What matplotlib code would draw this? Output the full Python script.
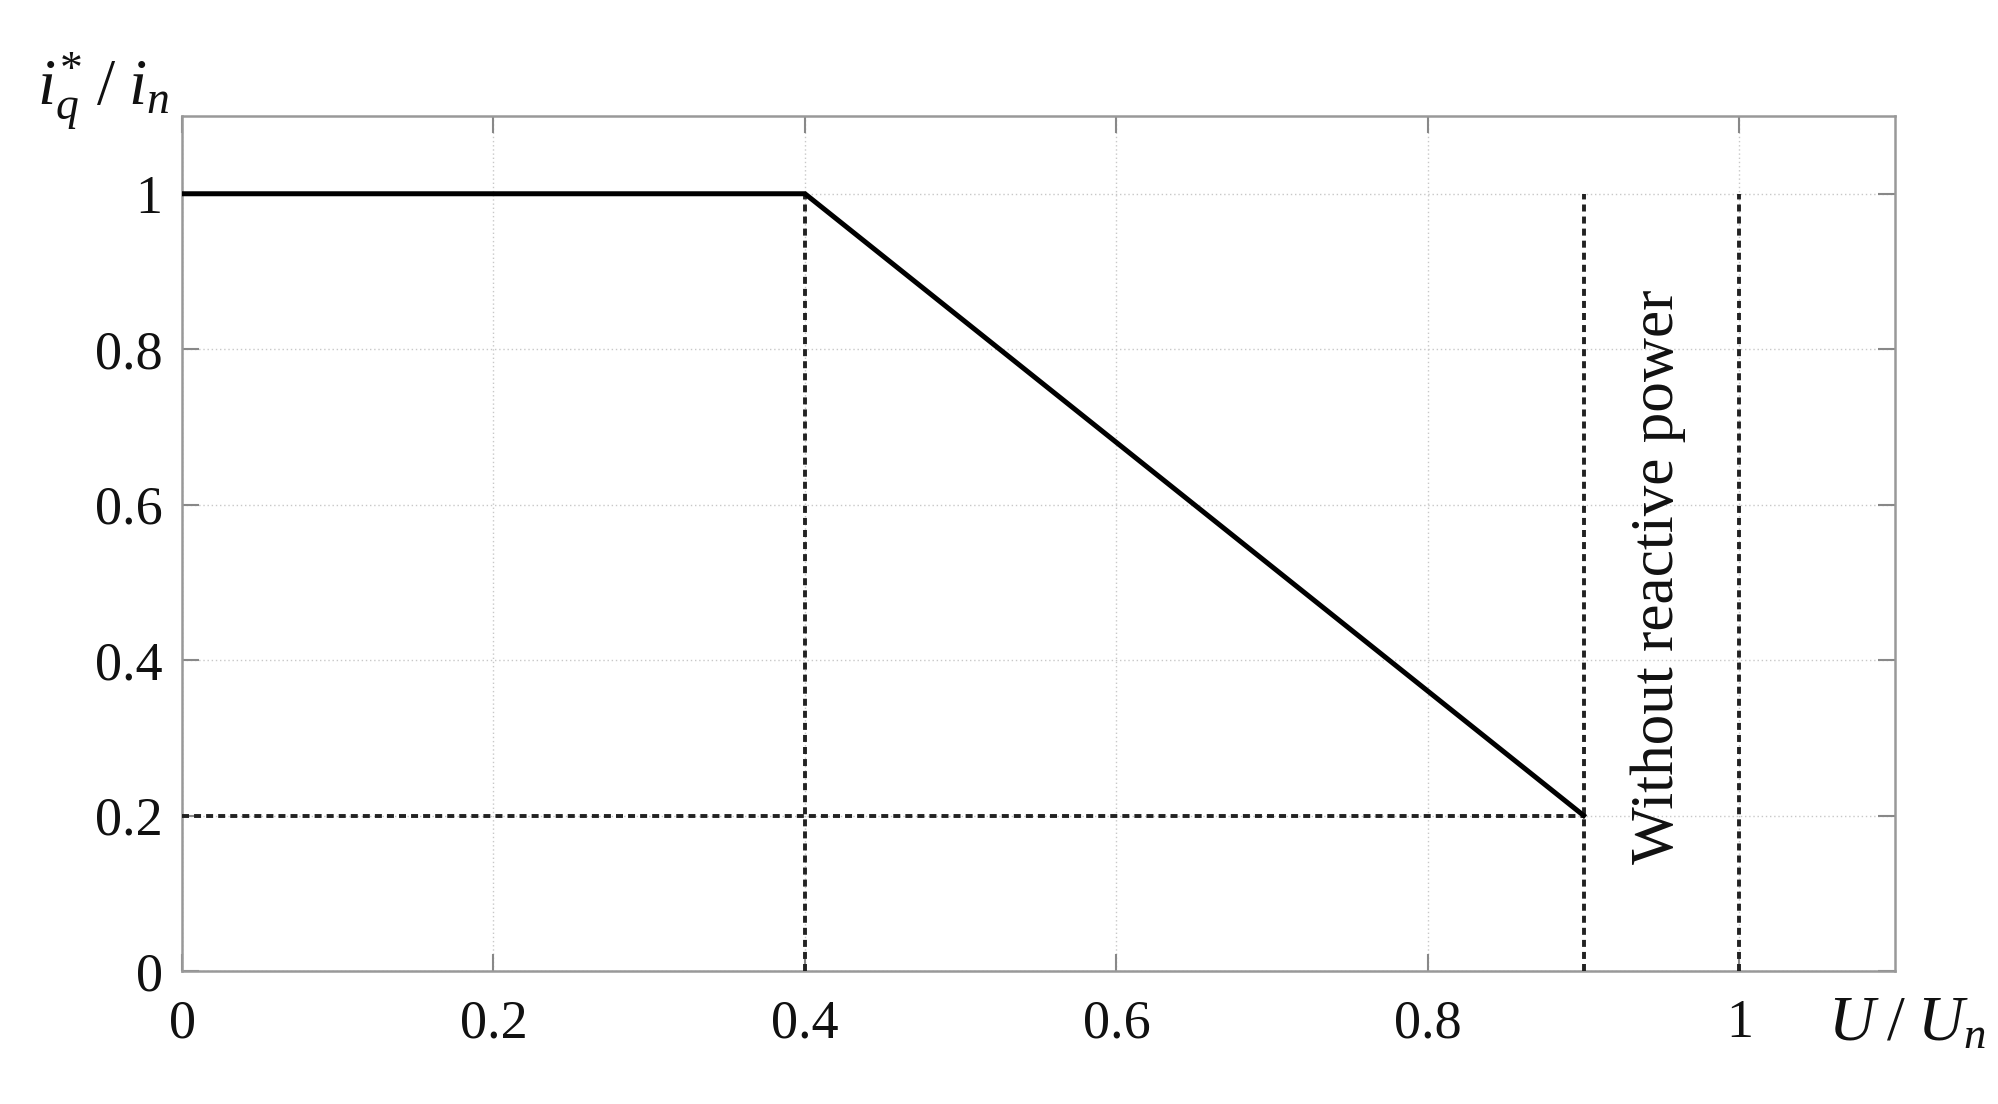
import matplotlib
matplotlib.use("Agg")
import matplotlib.pyplot as plt

# data
curve_x = [0.0, 0.4, 0.9]
curve_y = [1.0, 1.0, 0.2]
vlines_x = [0.4, 0.9, 1.0]
vlines_top = [1.0, 1.0, 1.0]
hline_y = 0.2
hline_xmax = 0.9
x_ticks = [0, 0.2, 0.4, 0.6, 0.8, 1.0]
x_ticklabels = ["0", "0.2", "0.4", "0.6", "0.8", "1"]
y_ticks = [0, 0.2, 0.4, 0.6, 0.8, 1.0]
y_ticklabels = ["0", "0.2", "0.4", "0.6", "0.8", "1"]
annotation = "Without reactive power"

plt.rcParams['font.family'] = ['Liberation Serif', 'DejaVu Serif']
plt.rcParams['mathtext.fontset'] = 'custom'
plt.rcParams['mathtext.rm'] = 'Liberation Serif'
plt.rcParams['mathtext.it'] = 'Liberation Serif:italic'

fig = plt.figure(figsize=(19.98, 11.04), dpi=100)
ax = fig.add_axes([0.0911, 0.1205, 0.8574, 0.7744])

ax.set_xlim(0, 1.1)
ax.set_ylim(0, 1.1)

ax.grid(True, color='#c8c8c8', linestyle=(0, (1, 2)), linewidth=1.0)
ax.set_axisbelow(True)

ax.plot(curve_x, curve_y, color='black', linewidth=3.6, solid_joinstyle='miter', zorder=4)
dash = (0, (1.8, 1.3))
for xv, top in zip(vlines_x, vlines_top):
    ax.plot([xv, xv], [0, top], color='#222222', linewidth=2.8,
            linestyle=dash, zorder=3)
ax.plot([0, hline_xmax], [hline_y, hline_y], color='#222222', linewidth=2.8,
        linestyle=dash, zorder=3)

ax.set_xticks(x_ticks)
ax.set_xticklabels(x_ticklabels)
ax.set_yticks(y_ticks)
ax.set_yticklabels(y_ticklabels)
ax.tick_params(direction='in', length=12, width=1.5, color='#888888',
               top=True, right=True, labelsize=39, labelcolor='#111111')
ax.tick_params(axis='x', pad=20)
ax.tick_params(axis='y', pad=14)

for s in ax.spines.values():
    s.set_color('#999999')
    s.set_linewidth(1.8)

ax.text(0.948, 0.507, annotation, rotation=90, ha='center', va='center',
        fontsize=44, color='#111111')

fig.text(0.0185, 1 - 105 / 1104, r'$i_q^{*}\;/\;i_n$', fontsize=47, ha='left',
         va='baseline', color='#111111')
fig.text(0.915, 1 - 1040 / 1104, r'$U\;/\;U_n$', fontsize=46, ha='left',
         va='baseline', color='#111111')

fig.savefig("out.png", dpi=100)
